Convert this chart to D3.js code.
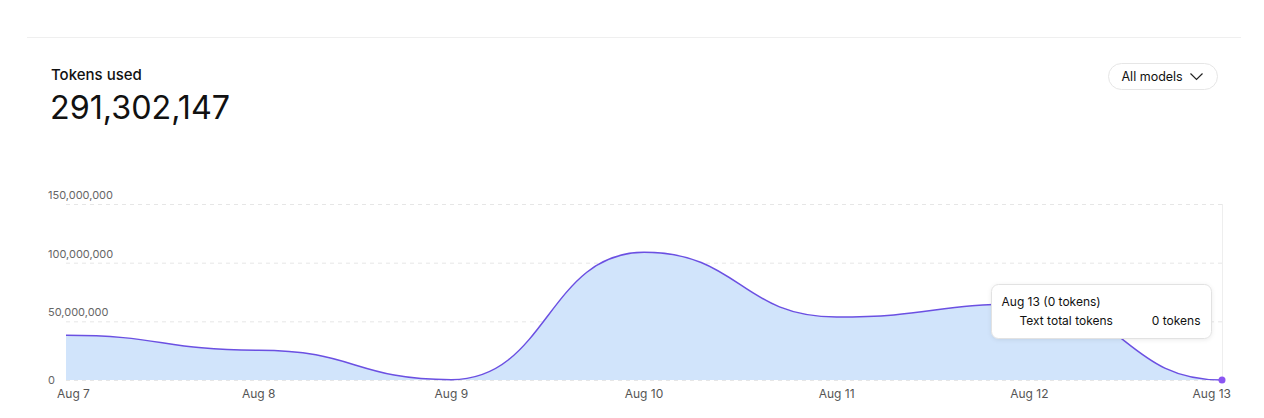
<!DOCTYPE html>
<html>
<head>
<meta charset="utf-8">
<title>Tokens used</title>
<script src="https://cdn.jsdelivr.net/npm/d3@7"></script>
<style>
  body { margin: 0; background: #fff; font-family: Inter, "Noto Sans", sans-serif; }
  svg { display: block; }
</style>
</head>
<body>
<svg width="1264" height="418" id="mainsvg"></svg>
<script>
// data
const days = ['Aug 7', 'Aug 8', 'Aug 9', 'Aug 10', 'Aug 11', 'Aug 12', 'Aug 13'];
const tokens = [38100000, 25400000, 300000, 108800000, 53700000, 65002147, 0];
const yTicks = [0, 50000000, 100000000, 150000000];
const totalLabel = '291,302,147';
const hoverIndex = 6;

const svg = d3.select('svg');
const plotLeft = 66, plotRight = 1222, plotTop = 204, plotBottom = 380;

const x = d3.scalePoint().domain(days).range([plotLeft, plotRight]);
const y = d3.scaleLinear().domain([0, 150000000]).range([plotBottom, plotTop]);
const fmt = d3.format(',');

// top divider
svg.append('line').attr('x1', 27).attr('x2', 1241).attr('y1', 37.5).attr('y2', 37.5)
  .attr('stroke', '#efefef');

// header
svg.append('text').attr('x', 51).attr('y', 80).attr('font-size', 15).attr('font-weight', 500)
  .attr('fill', '#111').text('Tokens used');
svg.append('text').attr('x', 50).attr('y', 119).attr('font-size', 32.3).attr('font-weight', 400)
  .attr('fill', '#111').text(totalLabel);

// dropdown
const dd = svg.append('g').attr('transform', 'translate(1108.5,63.5)');
dd.append('rect').attr('width', 109).attr('height', 26).attr('rx', 13)
  .attr('fill', '#fff').attr('stroke', '#e6e6e6');
dd.append('text').attr('x', 13).attr('y', 17).attr('font-size', 12.5).attr('font-weight', 400)
  .attr('fill', '#111').text('All models');
dd.append('path').attr('d', 'M82,10 L88,16 L94,10').attr('fill', 'none')
  .attr('stroke', '#222').attr('stroke-width', 1.2);

// grid
svg.append('g').selectAll('line').data(yTicks).join('line')
  .attr('x1', plotLeft).attr('x2', plotRight)
  .attr('y1', d => y(d) + 0.5).attr('y2', d => y(d) + 0.5)
  .attr('stroke', '#e6e6e6').attr('stroke-dasharray', '4,4');

// y labels
svg.append('g').selectAll('text').data(yTicks).join('text')
  .attr('x', 48).attr('y', d => d === 0 ? y(d) : y(d) - 9)
  .attr('dy', '0.35em').attr('font-size', 11).attr('fill', '#666')
  .text(d => fmt(d));

// x labels
svg.append('g').selectAll('text').data(days).join('text')
  .attr('x', (d, i) => i === 0 ? x(d) - 9 : i === days.length - 1 ? x(d) + 9 : x(d))
  .attr('y', 394).attr('dy', '0.35em')
  .attr('text-anchor', (d, i) => i === 0 ? 'start' : i === days.length - 1 ? 'end' : 'middle')
  .attr('font-size', 12).attr('fill', '#555').text(d => d);

// area + line
const area = d3.area().x((d, i) => x(days[i])).y0(y(0)).y1(d => y(d)).curve(d3.curveBumpX);
const line = d3.line().x((d, i) => x(days[i])).y(d => y(d)).curve(d3.curveBumpX);
svg.append('path').datum(tokens).attr('d', area).attr('fill', '#d1e4fb');
svg.append('path').datum(tokens).attr('d', line).attr('fill', 'none')
  .attr('stroke', '#6b50e2').attr('stroke-width', 1.5);

// hover cursor
const hx = x(days[hoverIndex]);
svg.append('line').attr('x1', hx + 0.5).attr('x2', hx + 0.5).attr('y1', plotTop).attr('y2', plotBottom)
  .attr('stroke', '#eeeeee');
svg.append('circle').attr('cx', hx).attr('cy', y(tokens[hoverIndex])).attr('r', 3.5)
  .attr('fill', '#8b55f2');

// tooltip
const defs = svg.append('defs');
const f = defs.append('filter').attr('id', 'shadow').attr('x', '-10%').attr('y', '-20%')
  .attr('width', '120%').attr('height', '150%');
f.append('feDropShadow').attr('dx', 0).attr('dy', 1).attr('stdDeviation', 2)
  .attr('flood-color', '#000').attr('flood-opacity', 0.08);
const tt = svg.append('g').attr('transform', 'translate(991.5,284.5)');
tt.append('rect').attr('width', 220).attr('height', 54).attr('rx', 7)
  .attr('fill', '#fff').attr('stroke', '#e2e2e2').attr('filter', 'url(#shadow)');
tt.append('text').attr('x', 10).attr('y', 21).attr('font-size', 12).attr('fill', '#111')
  .text(`${days[hoverIndex]} (${fmt(tokens[hoverIndex])} tokens)`);
tt.append('text').attr('x', 28).attr('y', 40).attr('font-size', 12).attr('fill', '#111')
  .text('Text total tokens');
tt.append('text').attr('x', 209).attr('y', 40).attr('text-anchor', 'end').attr('font-size', 12)
  .attr('fill', '#111').text(`${fmt(tokens[hoverIndex])} tokens`);
</script>
</body>
</html>
